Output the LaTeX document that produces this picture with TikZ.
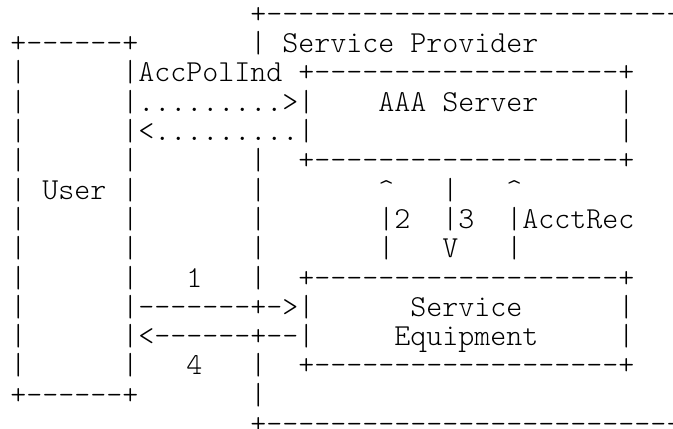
\documentclass[tikz,border=0pt]{standalone}
\usepackage{fontspec}
\setmonofont{lmmonolt10-regular.otf}
\begin{document}
\begin{tikzpicture}[x=1pt,y=1pt,
  asciirow/.style={anchor=base west, inner sep=0pt, outer sep=0pt,
    font=\ttfamily\fontsize{30.48pt}{29.3pt}\selectfont}]
\fill[white] (0,0) rectangle (673,429);
\useasboundingbox (0,0) rectangle (673,429);
\def\cr{\textasciicircum}
\node[asciirow] (r0)  at (250.3,405.6) {+--------------------------};
\node[asciirow] (r1)  at (10.3,376.3) {+------+~~~~~~~|~Service~Provider};
\node[asciirow] (r2)  at (10.3,347.0) {|~~~~~~|AccPolInd~+-------------------+};
\node[asciirow] (r3)  at (10.3,317.7) {|~~~~~~|.........>|~~~~AAA~Server~~~~~|};
\node[asciirow] (r4)  at (10.3,288.4) {|~~~~~~|<.........|~~~~~~~~~~~~~~~~~~~|};
\node[asciirow] (r5)  at (10.3,259.1) {|~~~~~~|~~~~~~~|~~+-------------------+};
\node[asciirow] (r6)  at (10.3,229.8) {|~User~|~~~~~~~|~~~~~~~\cr~~~|~~~\cr};
\node[asciirow] (r7)  at (10.3,200.5) {|~~~~~~|~~~~~~~|~~~~~~~|2~~|3~~|AcctRec};
\node[asciirow] (r8)  at (10.3,171.2) {|~~~~~~|~~~~~~~|~~~~~~~|~~~V~~~|};
\node[asciirow] (r9)  at (10.3,141.9) {|~~~~~~|~~~1~~~|~~+-------------------+};
\node[asciirow] (r10) at (10.3,112.6) {|~~~~~~|-------+->|~~~~~~Service~~~~~~|};
\node[asciirow] (r11) at (10.3,83.3)  {|~~~~~~|<------+--|~~~~~Equipment~~~~~|};
\node[asciirow] (r12) at (10.3,54.0)  {|~~~~~~|~~~4~~~|~~+-------------------+};
\node[asciirow] (r13) at (10.3,24.7)  {+------+~~~~~~~|};
\node[asciirow] (r14) at (250.3,-4.6) {+--------------------------};
\end{tikzpicture}
\end{document}
